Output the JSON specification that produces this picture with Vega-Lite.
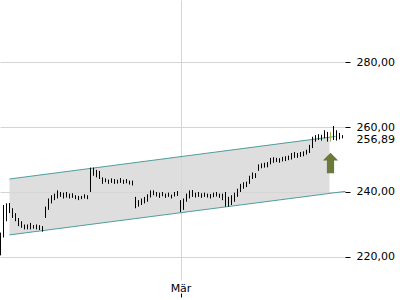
{
  "$schema": "https://vega.github.io/schema/vega-lite/v6.json",
  "width": 345,
  "height": 280,
  "autosize": {"type": "none"},
  "padding": {"left": 0, "top": 0, "right": 55, "bottom": 20},
  "config": {"view": {"stroke": null}, "font": "DejaVu Sans"},
  "datasets": {
    "bars": [
      {"n":0,"lo":220.5,"hi":227.5},{"n":1,"lo":226,"hi":236},{"n":2,"lo":231,"hi":236.5},{"n":3,"lo":233.5,"hi":236.6},
      {"n":4,"lo":232,"hi":235},{"n":5,"lo":231,"hi":233.5},{"n":6,"lo":229.5,"hi":232},{"n":7,"lo":229,"hi":231},
      {"n":8,"lo":228.5,"hi":230},{"n":9,"lo":228.5,"hi":230},{"n":10,"lo":228.5,"hi":230.5},{"n":11,"lo":228.7,"hi":229.8},
      {"n":12,"lo":228.5,"hi":230},{"n":13,"lo":228.3,"hi":229.8},{"n":14,"lo":227.8,"hi":229.5},{"n":15,"lo":232,"hi":235.5},
      {"n":16,"lo":234.5,"hi":238},{"n":17,"lo":236.5,"hi":239},{"n":18,"lo":237.5,"hi":239.5},{"n":19,"lo":238,"hi":240.5},
      {"n":20,"lo":238.5,"hi":240},{"n":21,"lo":238,"hi":239.8},{"n":22,"lo":238.3,"hi":240},{"n":23,"lo":238,"hi":239.5},
      {"n":24,"lo":238.2,"hi":239.6},{"n":25,"lo":237.8,"hi":239},{"n":26,"lo":237.5,"hi":238.8},{"n":27,"lo":237.8,"hi":238.8},
      {"n":28,"lo":238,"hi":239.3},{"n":29,"lo":237.8,"hi":239},{"n":30,"lo":240,"hi":247.5},{"n":31,"lo":245,"hi":247.5},
      {"n":32,"lo":244.5,"hi":246.8},{"n":33,"lo":244,"hi":246.5},{"n":34,"lo":242.5,"hi":244.5},{"n":35,"lo":243,"hi":244.2},
      {"n":36,"lo":242.5,"hi":243.8},{"n":37,"lo":242.8,"hi":244.2},{"n":38,"lo":242.5,"hi":244},{"n":39,"lo":242.6,"hi":243.8},
      {"n":40,"lo":242.8,"hi":244.3},{"n":41,"lo":242.5,"hi":243.8},{"n":42,"lo":242.7,"hi":244},{"n":43,"lo":242.3,"hi":243.5},
      {"n":44,"lo":242,"hi":243.5},{"n":45,"lo":235,"hi":238.5},{"n":46,"lo":235.5,"hi":237.5},{"n":47,"lo":236,"hi":238},
      {"n":48,"lo":236.5,"hi":238.5},{"n":49,"lo":237,"hi":239.3},{"n":50,"lo":238.3,"hi":240.5},{"n":51,"lo":239,"hi":240.5},
      {"n":52,"lo":238.6,"hi":240},{"n":53,"lo":238.2,"hi":239.8},{"n":54,"lo":238.7,"hi":240},{"n":55,"lo":238.2,"hi":239.5},
      {"n":56,"lo":238.5,"hi":239.8},{"n":57,"lo":238,"hi":239.2},{"n":58,"lo":238.6,"hi":240},{"n":59,"lo":238.8,"hi":240.3},
      {"n":60,"lo":233.8,"hi":237.5},{"n":61,"lo":234.5,"hi":238},{"n":62,"lo":237,"hi":239.5},{"n":63,"lo":238,"hi":240.5},
      {"n":64,"lo":238.5,"hi":240.6},{"n":65,"lo":238.3,"hi":239.8},{"n":66,"lo":238.5,"hi":240},{"n":67,"lo":238.2,"hi":239.6},
      {"n":68,"lo":238.5,"hi":239.8},{"n":69,"lo":238.3,"hi":239.5},{"n":70,"lo":238,"hi":239.4},{"n":71,"lo":238.4,"hi":239.8},
      {"n":72,"lo":238.6,"hi":240},{"n":73,"lo":238.2,"hi":239.5},{"n":74,"lo":237.5,"hi":239.5},{"n":75,"lo":235.5,"hi":240},
      {"n":76,"lo":235.5,"hi":238.5},{"n":77,"lo":236,"hi":239},{"n":78,"lo":237,"hi":239.8},{"n":79,"lo":238.5,"hi":241},
      {"n":80,"lo":240,"hi":242.5},{"n":81,"lo":241,"hi":243},{"n":82,"lo":241.5,"hi":243.2},{"n":83,"lo":242.5,"hi":245},
      {"n":84,"lo":244,"hi":246},{"n":85,"lo":244.3,"hi":245.8},{"n":86,"lo":246.5,"hi":248.5},{"n":87,"lo":247.3,"hi":248.8},
      {"n":88,"lo":247.5,"hi":249},{"n":89,"lo":247.6,"hi":249.2},{"n":90,"lo":248.5,"hi":250.5},{"n":91,"lo":249,"hi":250.7},
      {"n":92,"lo":249.2,"hi":250.5},{"n":93,"lo":249,"hi":250.4},{"n":94,"lo":249.4,"hi":250.8},{"n":95,"lo":249.5,"hi":251},
      {"n":96,"lo":249.8,"hi":251.2},{"n":97,"lo":250,"hi":252},{"n":98,"lo":250.5,"hi":252.3},{"n":99,"lo":250.5,"hi":252},
      {"n":100,"lo":250.8,"hi":252.3},{"n":101,"lo":251,"hi":252.5},{"n":102,"lo":251.5,"hi":253},{"n":103,"lo":252,"hi":254.5},
      {"n":104,"lo":253.5,"hi":257},{"n":105,"lo":255.5,"hi":257.5},{"n":106,"lo":256,"hi":257.8},{"n":107,"lo":255.8,"hi":257.6},
      {"n":108,"lo":256.5,"hi":259},{"n":109,"lo":255.5,"hi":258.5},{"n":110,"lo":255.5,"hi":258.5},{"n":111,"lo":256,"hi":260.3},
      {"n":112,"lo":255.8,"hi":259},{"n":113,"lo":256.2,"hi":258.2},{"n":114,"lo":256.5,"hi":257.5}
    ],
    "channel": [
      {"n":3,"lo":226.8,"hi":244.0},
      {"n":109.67,"lo":239.6,"hi":256.9}
    ],
    "upper": [{"n":3,"v":244.0},{"n":111.67,"v":257.1}],
    "lower": [{"n":3,"v":226.8},{"n":115,"v":240.2}],
    "arrow": [{"n":110,"v":248.9}]
  },
  "layer": [
    {
      "data": {"name": "channel"},
      "mark": {"type": "area", "color": "#d6d6d6", "opacity": 0.8},
      "encoding": {
        "x": {"field": "n", "type": "quantitative",
          "scale": {"domain": [-0.1667, 114.8333], "nice": false, "zero": false},
          "axis": {"values": [60], "labelExpr": "'Mär'", "title": null, "domain": false,
            "grid": true, "gridColor": "#d4d4d4", "tickColor": "#000000", "tickSize": 4,
            "offset": 13, "labelPadding": -15, "labelFontSize": 11, "labelColor": "#000000",
            "labelFont": "DejaVu Sans", "zindex": 0}},
        "y": {"field": "lo", "type": "quantitative",
          "scale": {"domain": [212.92, 299.08], "nice": false, "zero": false},
          "axis": {"orient": "right", "values": [220, 240, 256.89, 260, 280],
            "labelExpr": "replace(format(datum.value, '.2f'), '.', ',')",
            "title": null, "domain": false, "grid": true,
            "gridColor": {"condition": {"test": "datum.value === 256.89", "value": "transparent"}, "value": "#d4d4d4"},
            "tickColor": {"condition": {"test": "datum.value === 256.89", "value": "transparent"}, "value": "#000000"},
            "labelOffset": {"condition": {"test": "datum.value === 256.89", "value": 2}, "value": 0},
            "tickSize": 5, "labelPadding": 6, "labelFontSize": 11, "labelColor": "#000000",
            "labelFont": "DejaVu Sans", "labelOverlap": false, "labelBound": false, "zindex": 0}},
        "y2": {"field": "hi"}
      }
    },
    {
      "data": {"name": "upper"},
      "mark": {"type": "line", "color": "#4f9e9e", "strokeWidth": 1},
      "encoding": {
        "x": {"field": "n", "type": "quantitative"},
        "y": {"field": "v", "type": "quantitative"}
      }
    },
    {
      "data": {"name": "lower"},
      "mark": {"type": "line", "color": "#4f9e9e", "strokeWidth": 1},
      "encoding": {
        "x": {"field": "n", "type": "quantitative"},
        "y": {"field": "v", "type": "quantitative"}
      }
    },
    {
      "data": {"name": "bars"},
      "mark": {"type": "rule", "strokeWidth": 1},
      "encoding": {
        "x": {"field": "n", "type": "quantitative"},
        "y": {"field": "lo", "type": "quantitative"},
        "y2": {"field": "hi"},
        "color": {"condition": {"test": "datum.n === 110", "value": "#a3b35a"}, "value": "#000000"}
      }
    },
    {
      "data": {"name": "arrow"},
      "mark": {"type": "point", "filled": true, "opacity": 1, "color": "#6b7a3a",
        "shape": "M0,-1 L0.75,-0.25 L0.35,-0.25 L0.35,1 L-0.35,1 L-0.35,-0.25 L-0.75,-0.25 Z",
        "size": 420},
      "encoding": {
        "x": {"field": "n", "type": "quantitative"},
        "y": {"field": "v", "type": "quantitative"}
      }
    }
  ]
}
